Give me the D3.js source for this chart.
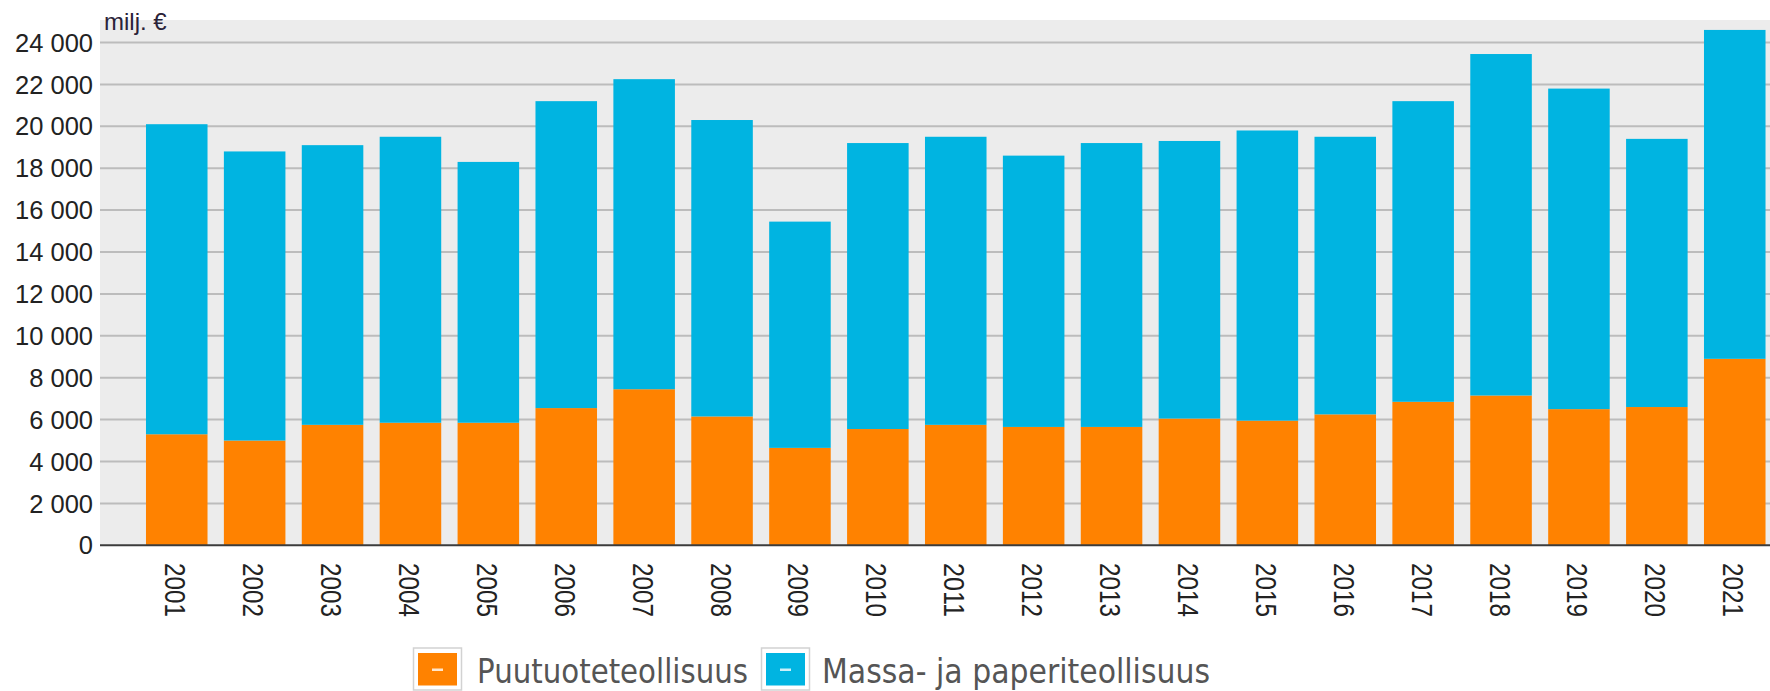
<!DOCTYPE html>
<html>
<head>
<meta charset="utf-8">
<script src="https://cdn.jsdelivr.net/npm/d3@7"></script>
<style>
  body { margin: 0; background: #fff; }
  svg { display: block; }
</style>
</head>
<body>
<svg id="chart"></svg>
<script>
// values in milj. €
const years = ["2001","2002","2003","2004","2005","2006","2007","2008","2009","2010","2011",
  "2012","2013","2014","2015","2016","2017","2018","2019","2020","2021"];
const puutuote = [5300, 5000, 5750, 5850, 5850, 6550, 7450, 6150, 4650, 5550, 5750,
  5650, 5650, 6050, 5950, 6250, 6850, 7150, 6500, 6600, 8900];
const totals = [20100, 18800, 19100, 19500, 18300, 21200, 22250, 20300, 15450, 19200, 19500,
  18600, 19200, 19300, 19800, 19500, 21200, 23450, 21800, 19400, 24600];
const massa = totals.map((t, i) => t - puutuote[i]);
const seriesNames = ["Puutuoteteollisuus", "Massa- ja paperiteollisuus"];
const colors = ["#ff8200", "#00b4e1"];
const yTicks = [0, 2000, 4000, 6000, 8000, 10000, 12000, 14000, 16000, 18000, 20000, 22000, 24000];

const width = 1770, height = 691;
const plotLeft = 100, plotRight = 1770, plotTop = 20;

const svg = d3.select("#chart").attr("width", width).attr("height", height);

const y = d3.scaleLinear().domain([0, 24000]).range([545.3, 42.5]);
const x = d3.scaleBand().domain(years)
  .range([137.8, 1773.7])
  .paddingInner(0.21)
  .paddingOuter(0.105);

// plot background
svg.append("rect")
  .attr("x", plotLeft).attr("y", plotTop)
  .attr("width", plotRight - plotLeft).attr("height", y(0) - plotTop)
  .attr("fill", "#ececec");

// gridlines
svg.append("g").selectAll("line")
  .data(yTicks.filter(d => d > 0))
  .join("line")
  .attr("x1", plotLeft).attr("x2", plotRight)
  .attr("y1", d => y(d)).attr("y2", d => y(d))
  .attr("stroke", "#bcbcbc").attr("stroke-width", 2);

// stacked bars
const rows = years.map((yr, i) => ({ year: yr, p: puutuote[i], m: massa[i] }));
const stack = d3.stack().keys(["p", "m"])(rows);

svg.append("g").selectAll("g")
  .data(stack)
  .join("g")
  .attr("fill", (d, i) => colors[i])
  .selectAll("rect")
  .data(d => d)
  .join("rect")
  .attr("x", d => x(d.data.year))
  .attr("y", d => y(d[1]))
  .attr("width", x.bandwidth())
  .attr("height", d => y(d[0]) - y(d[1]));

// zero line
svg.append("line")
  .attr("x1", plotLeft).attr("x2", plotRight)
  .attr("y1", y(0)).attr("y2", y(0))
  .attr("stroke", "#3c3c3c").attr("stroke-width", 2);

// y axis labels
svg.append("g").selectAll("text")
  .data(yTicks)
  .join("text")
  .attr("x", 93)
  .attr("y", d => y(d))
  .attr("dy", "0.36em")
  .attr("text-anchor", "end")
  .attr("font-family", "Liberation Sans, Arial, sans-serif")
  .attr("font-size", 25.5)
  .attr("fill", "#222")
  .text(d => d3.format(",")(d).replace(/,/g, " "));

svg.append("text")
  .attr("x", 104).attr("y", 30)
  .attr("font-family", "Liberation Sans, Arial, sans-serif")
  .attr("font-size", 24)
  .attr("fill", "#2a2238")
  .text("milj. €");

// x labels, rotated
svg.append("g").selectAll("text")
  .data(years)
  .join("text")
  .attr("transform", d => `translate(${x(d) + x.bandwidth() / 2 - 1}, 563) rotate(90)`)
  .attr("dominant-baseline", "central")
  .attr("font-family", "Liberation Sans, Arial, sans-serif")
  .attr("font-size", 30)
  .attr("textLength", 54)
  .attr("lengthAdjust", "spacingAndGlyphs")
  .attr("fill", "#222")
  .text(d => d);

// legend
const legend = [
  { name: seriesNames[0], color: colors[0], bx: 413, tx: 477, tw: 271 },
  { name: seriesNames[1], color: colors[1], bx: 761, tx: 822, tw: 388 }
];
const lg = svg.append("g").selectAll("g").data(legend).join("g");
lg.append("rect")
  .attr("x", d => d.bx + 0.5).attr("y", 648)
  .attr("width", 48).attr("height", 42)
  .attr("fill", "#fff")
  .attr("stroke", "#d2d2d2").attr("stroke-width", 1.5);
lg.append("rect")
  .attr("x", d => d.bx + 5).attr("y", 653)
  .attr("width", 39).attr("height", 32.5)
  .attr("fill", d => d.color);
lg.append("rect")
  .attr("x", d => d.bx + 19).attr("y", 668.5)
  .attr("width", 11).attr("height", 2.5)
  .attr("fill", "#fff").attr("opacity", 0.8);
lg.append("text")
  .attr("x", d => d.tx).attr("y", 682.5)
  .attr("font-family", "DejaVu Sans, Verdana, sans-serif")
  .attr("font-size", 34)
  .attr("textLength", d => d.tw)
  .attr("lengthAdjust", "spacingAndGlyphs")
  .attr("fill", "#555")
  .text(d => d.name);
</script>
</body>
</html>
